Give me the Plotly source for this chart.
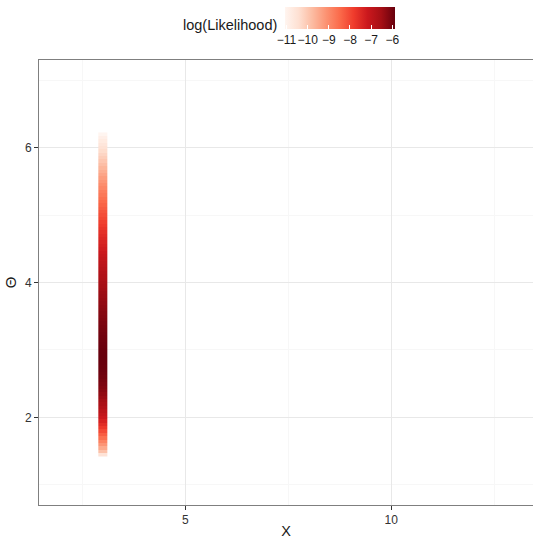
import plotly.graph_objects as go

# Observed X and the grid of theta values evaluated
x_obs = 3
theta = [1.45, 1.50, 1.55, 1.60, 1.65, 1.70, 1.75, 1.80, 1.85, 1.90,
         1.95, 2.00, 2.05, 2.10, 2.15, 2.20, 2.25, 2.30, 2.35, 2.40,
         2.45, 2.50, 2.55, 2.60, 2.65, 2.70, 2.75, 2.80, 2.85, 2.90,
         2.95, 3.00, 3.05, 3.10, 3.15, 3.20, 3.25, 3.30, 3.35, 3.40,
         3.45, 3.50, 3.55, 3.60, 3.65, 3.70, 3.75, 3.80, 3.85, 3.90,
         3.95, 4.00, 4.05, 4.10, 4.15, 4.20, 4.25, 4.30, 4.35, 4.40,
         4.45, 4.50, 4.55, 4.60, 4.65, 4.70, 4.75, 4.80, 4.85, 4.90,
         4.95, 5.00, 5.05, 5.10, 5.15, 5.20, 5.25, 5.30, 5.35, 5.40,
         5.45, 5.50, 5.55, 5.60, 5.65, 5.70, 5.75, 5.80, 5.85, 5.90,
         5.95, 6.00, 6.05, 6.10, 6.15, 6.20]

# log-likelihood at each theta
log_lik = [-10.50, -9.85, -9.48, -9.15, -8.84, -8.55, -8.27, -8.00, -7.77, -7.55,
           -7.34, -7.15, -7.00, -6.86, -6.72, -6.60, -6.49, -6.38, -6.29, -6.20,
           -6.13, -6.07, -6.02, -5.97, -5.93, -5.90, -5.88, -5.87, -5.86, -5.85,
           -5.86, -5.87, -5.89, -5.91, -5.93, -5.95, -5.98, -6.01, -6.04, -6.07,
           -6.11, -6.14, -6.18, -6.22, -6.26, -6.30, -6.34, -6.38, -6.42, -6.47,
           -6.52, -6.57, -6.63, -6.68, -6.74, -6.80, -6.87, -6.93, -7.00, -7.07,
           -7.15, -7.22, -7.29, -7.37, -7.45, -7.53, -7.61, -7.69, -7.78, -7.87,
           -7.96, -8.05, -8.15, -8.25, -8.35, -8.45, -8.56, -8.67, -8.78, -8.90,
           -9.02, -9.15, -9.27, -9.40, -9.54, -9.67, -9.81, -9.95, -10.08, -10.21,
           -10.34, -10.47, -10.60, -10.73, -10.87, -11.05]

cbar_ticks = [-11, -10, -9, -8, -7, -6]
x_ticks = [5, 10]
y_ticks = [2, 4, 6]

reds = ["#FFF5F0", "#FEE0D2", "#FCBBA1", "#FC9272", "#FB6A4A",
        "#EF3B2C", "#CB181D", "#A50F15", "#67000D"]
colorscale = [[i / (len(reds) - 1), c] for i, c in enumerate(reds)]

FONT = "Liberation Sans, Arial, Helvetica, sans-serif"
W, H = 533, 539
ML, MR, MT, MB = 39, 0, 60, 34

fig = go.Figure(go.Heatmap(
    z=[[v] for v in log_lik],
    y=theta,
    x0=x_obs, dx=0.22,
    colorscale=colorscale,
    zmin=min(log_lik), zmax=max(log_lik),
    colorbar=dict(
        orientation="h",
        xref="container", yref="container",
        x=308 / W, xanchor="left",
        y=1 - 7 / H, yanchor="top",
        len=110, lenmode="pixels",
        thickness=22, thicknessmode="pixels",
        xpad=0, ypad=0,
        outlinewidth=0,
        tickmode="array", tickvals=cbar_ticks,
        ticktext=["\u2212" + str(abs(t)) for t in cbar_ticks],
        tickangle=0,
        ticks="inside", ticklen=4, tickcolor="white", tickwidth=1,
        tickfont=dict(family=FONT, size=12, color="#1a1a1a"),
    ),
    hoverinfo="skip",
))

fig.add_annotation(
    text="log(Likelihood)", showarrow=False,
    xref="paper", yref="paper",
    x=(279 - ML) / (W - ML - MR), xanchor="right",
    y=(H - MB - 25) / (H - MT - MB), yanchor="middle",
    font=dict(family=FONT, size=14.5, color="#1a1a1a"),
)

axis_common = dict(
    showline=True, linecolor="#7f7f7f", linewidth=1,
    ticks="outside", ticklen=4, tickcolor="#333333", tickwidth=1,
    tickfont=dict(family=FONT, size=12, color="#333333"),
    gridcolor="#E8E8E8", gridwidth=1,
    minor=dict(showgrid=True, gridcolor="#F7F7F7", gridwidth=1, ticks=""),
    zeroline=False,
)

fig.update_xaxes(
    **axis_common,
    range=[1.45, 13.44], mirror=True,
    tickmode="array", tickvals=x_ticks,
    title=dict(text="X", font=dict(family=FONT, size=14.5, color="#1a1a1a"), standoff=5),
)
fig.update_xaxes(minor=dict(tickmode="array", tickvals=[2.5, 7.5, 12.5]))

fig.update_yaxes(
    **axis_common,
    range=[0.7, 7.3], mirror=False,
    tickmode="array", tickvals=y_ticks,
    title=dict(text="\u0398", font=dict(family=FONT, size=15, color="#1a1a1a"), standoff=4),
)
fig.update_yaxes(minor=dict(tickmode="array", tickvals=[1, 3, 5, 7]))

fig.update_layout(
    width=W, height=H,
    margin=dict(l=ML, r=MR, t=MT, b=MB, autoexpand=False),
    paper_bgcolor="white", plot_bgcolor="white",
    font=dict(family=FONT),
)

fig.write_html("out.html")
